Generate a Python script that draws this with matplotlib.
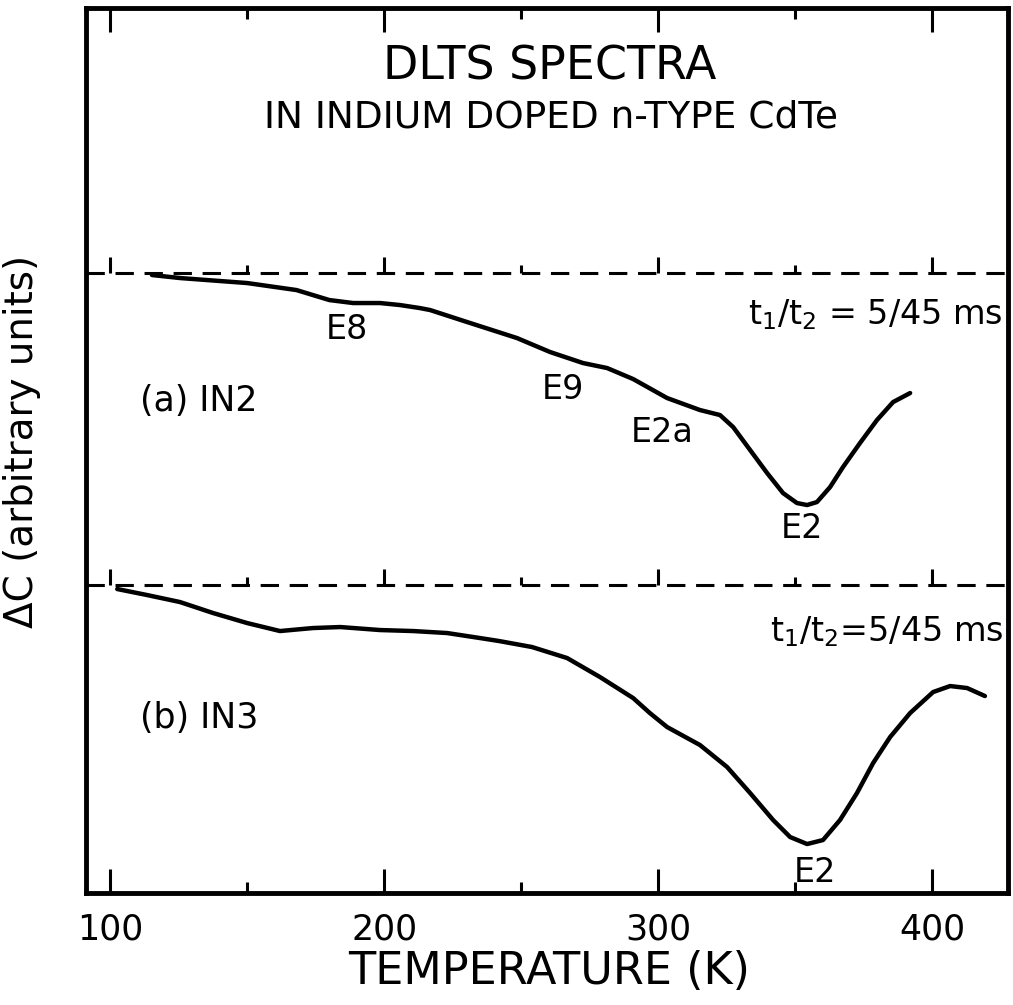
import numpy as np
import matplotlib.pyplot as plt

# DLTS spectra
# y is in arbitrary units (plot units), each spectrum hangs from its own zero line
t_a = [115.3, 125.5, 150, 168, 180, 188.7, 198.5, 205.8, 213, 216.8, 230.3, 248.5,
       260.6, 272.6, 281.4, 290.9, 303.3, 315.3, 322.6, 327.4, 333.6, 339.8, 345.6,
       350.7, 354.4, 358, 362.8, 367.5, 373.7, 379.9, 385.8, 392]
dc_a = [-2, -5, -10, -17, -27, -30, -30, -32, -35, -37, -49, -65,
        -79, -90, -95, -106, -125, -137, -142, -154, -177, -200, -220,
        -230, -232, -229, -214, -194, -170, -147, -129, -120]

t_b = [102.6, 113.5, 125.5, 137.6, 150, 162, 174, 184, 198.5, 210.6, 223, 235,
       242, 248, 254, 266.8, 278.8, 290.9, 297, 303.3, 315.3, 325.2, 333.6, 342,
       348.2, 354.4, 360.2, 366.4, 372.6, 378.5, 384.7, 392, 400.4, 406.6, 412.8, 419.3]
dc_b = [-4, -10, -17, -28, -38, -46, -43, -42, -45, -46, -48, -53,
        -56, -59, -62, -73, -92, -113, -128, -142, -160, -182, -208, -235,
        -252, -259, -255, -235, -208, -178, -152, -128, -107, -101, -103, -111]

zero_a = 620
zero_b = 308

major = [100, 200, 300, 400]
minor = [150, 250, 350]

peaks_a = ["E8", "E9", "E2a", "E2"]
peaks_a_pos = [(186.5, 564), (265.3, 504), (301.5, 461), (352.6, 365)]

fig = plt.figure(figsize=(10.13, 10.05), dpi=100)
ax = fig.add_axes([0.0849, 0.1114, 0.9101, 0.8806])

ax.plot(t_a, zero_a + np.array(dc_a), color="black", lw=3.2,
        solid_joinstyle="round", solid_capstyle="round")
ax.plot(t_b, zero_b + np.array(dc_b), color="black", lw=3.2,
        solid_joinstyle="round", solid_capstyle="round")

# zero lines with their small ticks
for z in [zero_a, zero_b]:
    ax.axhline(z, color="black", lw=2.2, ls=(0, (6, 3.5)))
    ax.vlines(major, z, z + 16, color="black", lw=2.2)
    ax.vlines(minor, z, z + 8, color="black", lw=2.2)

ax.set_xlim(91.2, 427.7)
ax.set_ylim(0, 885)

ax.set_xticks(major)
ax.set_xticks(minor, minor=True)
ax.set_xticklabels(["100", "200", "300", "400"])
ax.set_yticks([])
ax.tick_params(axis="x", which="major", direction="in", length=17, width=2.2,
               top=True, labelsize=25, pad=14)
ax.tick_params(axis="x", which="minor", direction="in", length=8, width=2.2, top=True)
for s in ax.spines.values():
    s.set_linewidth(3.5)

ax.text(260.6, 826, "DLTS SPECTRA", fontsize=33, ha="center", va="center")
ax.text(261, 776, "IN INDIUM DOPED n-TYPE CdTe", fontsize=27, ha="center", va="center")

ax.text(425.9, 578, "t$_1$/t$_2$ = 5/45 ms", fontsize=24, ha="right", va="center")
ax.text(425.9, 261, "t$_1$/t$_2$=5/45 ms", fontsize=24, ha="right", va="center")

for name, (x, y) in zip(peaks_a, peaks_a_pos):
    ax.text(x, y, name, fontsize=24, ha="center", va="center")
ax.text(357.3, 21, "E2", fontsize=24, ha="center", va="center")

ax.text(111, 492, "(a) IN2", fontsize=25, ha="left", va="center")
ax.text(111, 175, "(b) IN3", fontsize=25, ha="left", va="center")

fig.text(0.542, 0.033, "TEMPERATURE (K)", fontsize=32, ha="center", va="center")
fig.text(0.0217, 0.561, "ΔC (arbitrary units)", fontsize=28, ha="center",
         va="center", rotation=90)

fig.savefig("out.png", dpi=100)
